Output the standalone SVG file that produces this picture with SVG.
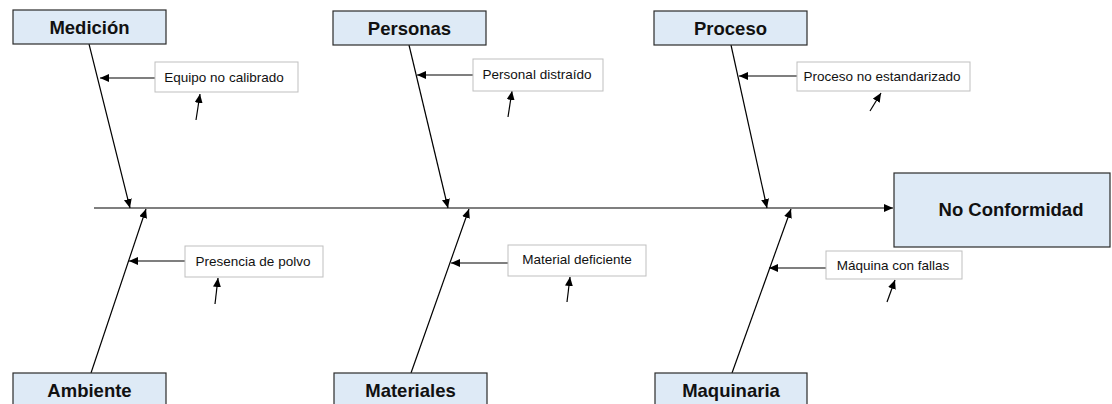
<svg xmlns="http://www.w3.org/2000/svg" width="1112" height="404" viewBox="0 0 1112 404">
<style>
.cat{fill:#DEEAF6;stroke:#2b2b2b;stroke-width:1.2}
.cat-t{font-family:"Liberation Sans",Arial,sans-serif;font-weight:bold;font-size:18.5px;fill:#111;text-anchor:middle}
.lab{fill:#fff;stroke:#bfbfbf;stroke-width:1}
.lab-t{font-family:"Liberation Sans",Arial,sans-serif;font-size:13.5px;fill:#111;text-anchor:middle}
.ln{stroke:#000;stroke-width:1.2;fill:none;marker-end:url(#ah)}
</style>
<defs>
<marker id="ah" markerUnits="userSpaceOnUse" markerWidth="10" markerHeight="8" refX="9" refY="4" orient="auto">
<path d="M0,0 L9,4 L0,8 z" fill="#000"/>
</marker>
</defs>
<rect width="1112" height="404" fill="#fff"/>
<g id="connectors">
<line class="ln" x1="94" y1="208" x2="893" y2="208"/>
<line class="ln" x1="89" y1="44" x2="130" y2="208"/>
<line class="ln" x1="409" y1="45" x2="448" y2="208"/>
<line class="ln" x1="731" y1="45" x2="767" y2="208"/>
<line class="ln" x1="91" y1="373" x2="146" y2="209"/>
<line class="ln" x1="411" y1="373" x2="469" y2="209"/>
<line class="ln" x1="732" y1="373" x2="791" y2="209"/>
<line class="ln" x1="155" y1="78" x2="100" y2="78"/>
<line class="ln" x1="473" y1="75" x2="417" y2="75"/>
<line class="ln" x1="797" y1="76" x2="739" y2="76"/>
<line class="ln" x1="185" y1="261" x2="129" y2="261"/>
<line class="ln" x1="508" y1="263" x2="451" y2="263"/>
<line class="ln" x1="826" y1="268" x2="769" y2="268"/>
<line class="ln" x1="196" y1="120" x2="200" y2="94"/>
<line class="ln" x1="508" y1="117" x2="512" y2="91"/>
<line class="ln" x1="870" y1="111" x2="881" y2="93"/>
<line class="ln" x1="215" y1="304" x2="218" y2="278"/>
<line class="ln" x1="567" y1="302" x2="570" y2="277"/>
<line class="ln" x1="887" y1="302" x2="895" y2="280"/>
</g>
<g id="medicion"><rect class="cat" x="13" y="10" width="153" height="34"/><text class="cat-t" x="89.5" y="34">Medición</text></g>
<g id="personas"><rect class="cat" x="333" y="11" width="153" height="34"/><text class="cat-t" x="409.5" y="35">Personas</text></g>
<g id="proceso"><rect class="cat" x="654" y="11" width="153" height="34"/><text class="cat-t" x="730.5" y="35">Proceso</text></g>
<g id="ambiente"><rect class="cat" x="13" y="373" width="153" height="34"/><text class="cat-t" x="89.5" y="397">Ambiente</text></g>
<g id="materiales"><rect class="cat" x="334" y="373" width="153" height="34"/><text class="cat-t" x="410.5" y="397">Materiales</text></g>
<g id="maquinaria"><rect class="cat" x="655" y="373" width="152" height="34"/><text class="cat-t" x="731" y="397">Maquinaria</text></g>
<g id="no-conformidad"><rect class="cat" x="894" y="173" width="216" height="74"/><text class="cat-t" x="1011" y="216">No Conformidad</text></g>
<g id="equipo"><rect class="lab" x="155" y="62" width="143" height="30"/><text class="lab-t" x="224" y="82">Equipo no calibrado</text></g>
<g id="personal"><rect class="lab" x="473" y="59" width="130" height="32"/><text class="lab-t" x="537" y="79">Personal distraído</text></g>
<g id="proceso-no"><rect class="lab" x="797" y="62" width="173" height="29"/><text class="lab-t" x="882" y="81">Proceso no estandarizado</text></g>
<g id="polvo"><rect class="lab" x="185" y="246" width="138" height="31"/><text class="lab-t" x="253" y="266">Presencia de polvo</text></g>
<g id="material"><rect class="lab" x="508" y="245" width="138" height="31"/><text class="lab-t" x="577" y="264">Material deficiente</text></g>
<g id="maquina"><rect class="lab" x="826" y="251" width="136" height="28"/><text class="lab-t" x="893" y="270">Máquina con fallas</text></g>
</svg>
